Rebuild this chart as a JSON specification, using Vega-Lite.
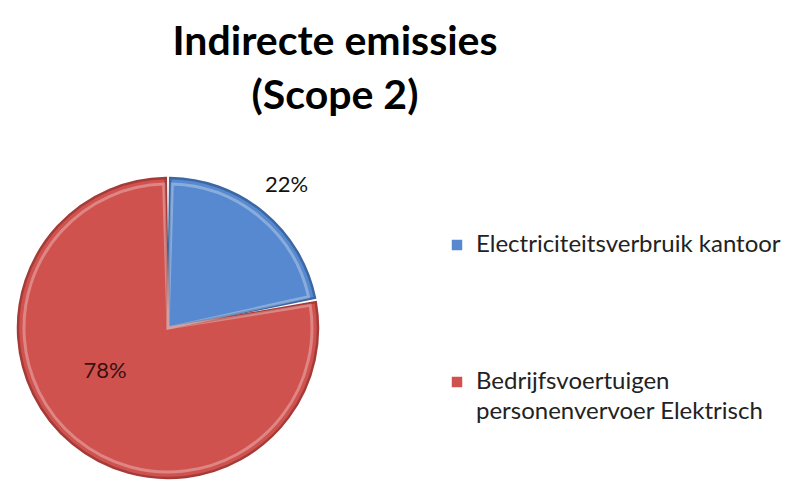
{
  "$schema": "https://vega.github.io/schema/vega-lite/v6.json",
  "width": 320,
  "height": 310,
  "padding": {"left": 8, "top": 22, "right": 0, "bottom": 0},
  "background": "white",
  "title": {
    "text": ["Indirecte emissies", "(Scope 2)"],
    "font": "Lato",
    "fontSize": 41,
    "fontWeight": "bold",
    "lineHeight": 54,
    "color": "#000000",
    "anchor": "middle",
    "frame": "group",
    "dx": 167,
    "offset": 55
  },
  "data": {
    "values": [
      {"nr": 1, "categorie": "Electriciteitsverbruik kantoor", "aandeel": 0.22},
      {"nr": 2, "categorie": "Bedrijfsvoertuigen personenvervoer Elektrisch", "aandeel": 0.78}
    ]
  },
  "encoding": {
    "theta": {"field": "aandeel", "type": "quantitative", "stack": true},
    "order": {"field": "nr", "type": "ordinal"}
  },
  "layer": [
    {
      "mark": {"type": "arc", "outerRadius": 150, "padAngle": 0.03, "strokeWidth": 2.5},
      "encoding": {
        "color": {
          "field": "categorie",
          "type": "nominal",
          "scale": {
            "domain": ["Electriciteitsverbruik kantoor", "Bedrijfsvoertuigen personenvervoer Elektrisch"],
            "range": ["#5689cf", "#d0524f"]
          },
          "legend": {
            "title": null,
            "orient": "none",
            "legendX": 437,
            "legendY": 60,
            "symbolType": "square",
            "symbolSize": 110,
            "symbolStrokeWidth": 0,
            "symbolOpacity": 1,
            "labelFont": "Lato",
            "labelFontSize": 24,
            "labelColor": "#222222",
            "labelLimit": 400,
            "labelOffset": 7,
            "rowPadding": 113,
            "labelExpr": "datum.label == 'Bedrijfsvoertuigen personenvervoer Elektrisch' ? ['Bedrijfsvoertuigen', 'personenvervoer Elektrisch'] : datum.label"
          }
        },
        "stroke": {
          "field": "categorie",
          "type": "nominal",
          "scale": {
            "domain": ["Electriciteitsverbruik kantoor", "Bedrijfsvoertuigen personenvervoer Elektrisch"],
            "range": ["#3b67a3", "#a53b38"]
          },
          "legend": null
        }
      }
    },
    {
      "mark": {"type": "arc", "outerRadius": 144, "padAngle": 0.06, "fillOpacity": 0, "stroke": "#ffffff", "strokeOpacity": 0.3, "strokeWidth": 3}
    },
    {
      "mark": {"type": "text", "radius": 186, "font": "Lato", "fontSize": 22, "color": "#111111"},
      "encoding": {
        "text": {"condition": {"test": "datum.nr == 1", "field": "aandeel", "format": ".0%"}, "value": ""}
      }
    },
    {
      "mark": {"type": "text", "radius": 80, "dx": -12, "dy": -19, "font": "Lato", "fontSize": 22, "color": "#3a1010"},
      "encoding": {
        "text": {"condition": {"test": "datum.nr == 2", "field": "aandeel", "format": ".0%"}, "value": ""}
      }
    }
  ],
  "config": {
    "view": {"stroke": null},
    "style": {"guide-label": {"lineHeight": 30}}
  }
}
